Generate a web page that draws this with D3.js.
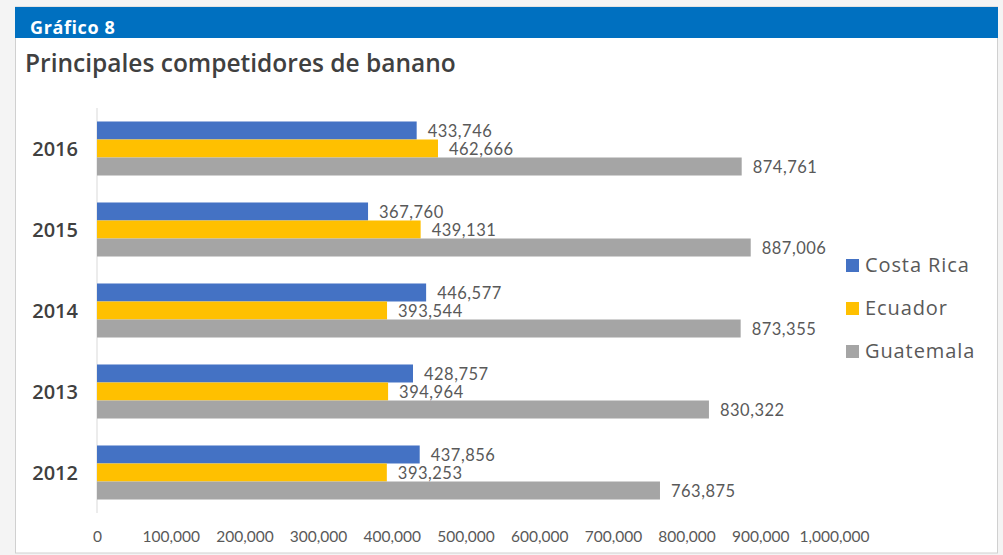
<!DOCTYPE html>
<html><head><meta charset="utf-8">
<script src="https://cdn.jsdelivr.net/npm/d3@7"></script>
<style>
html,body{margin:0;padding:0;background:#fff;}
svg{display:block;}
</style></head>
<body>
<svg id="c" width="1003" height="555"></svg>
<script>
const years = ["2016","2015","2014","2013","2012"];
const seriesNames = ["Costa Rica","Ecuador","Guatemala"];
const costaRica = [433746, 367760, 446577, 428757, 437856];
const ecuador   = [462666, 439131, 393544, 394964, 393253];
const guatemala = [874761, 887006, 873355, 830322, 763875];
const tickValues = [0,100000,200000,300000,400000,500000,600000,700000,800000,900000,1000000];
const colors = ["#4472C4","#FFC000","#A5A5A5"];

const seriesValues = [costaRica, ecuador, guatemala];
const svg = d3.select("#c");
const fmt = d3.format(",");

// page background & frame
svg.append("rect").attr("x",0).attr("y",0).attr("width",1003).attr("height",555).attr("fill","#f4f4f4");
svg.append("rect").attr("x",15.5).attr("y",7).attr("width",982).attr("height",546).attr("fill","#fff").attr("stroke","#d0d0d0");
svg.append("rect").attr("x",15).attr("y",7).attr("width",983).attr("height",31).attr("fill","#0070C0");
svg.append("text").attr("x",30).attr("y",34).text("Gráfico 8")
  .attr("font-family","Open Sans").attr("font-weight",700).attr("font-size",18).attr("letter-spacing",0.6).attr("fill","#fff");
svg.append("text").attr("x",25).attr("y",72).text("Principales competidores de banano")
  .attr("font-family","Open Sans").attr("font-weight",600).attr("font-size",24.5).attr("fill","#404040");

const x = d3.scaleLinear().domain([0,1000000]).range([97,834]);
const y = d3.scaleBand().domain(years).range([108,513]).paddingInner(0.333).paddingOuter(0.1665);
const ySub = d3.scaleBand().domain(seriesNames).range([0,y.bandwidth()]);

// axis line (vertical)
svg.append("line").attr("x1",97).attr("x2",97).attr("y1",108).attr("y2",513).attr("stroke","#d9d9d9");

// x tick labels
const xAxis = d3.axisBottom(x).tickValues(tickValues).tickFormat(d=>fmt(d)).tickSize(0).tickPadding(0);
const gx = svg.append("g").attr("transform","translate(0,537)").call(xAxis);
gx.select(".domain").remove();
gx.selectAll("text").attr("font-family","Lato").attr("font-size",15.5).attr("fill","#595959").attr("dy","0.32em").attr("y",0);

// y labels
const yAxis = d3.axisLeft(y).tickSize(0).tickPadding(0);
const gy = svg.append("g").attr("transform","translate(78,0)").call(yAxis);
gy.select(".domain").remove();
gy.selectAll("text").attr("font-family","Open Sans").attr("font-weight",600).attr("font-size",20).attr("fill","#404040").attr("dy","0.35em");

// bars
const groups = svg.append("g").selectAll("g").data(years).join("g")
  .attr("transform", d=>`translate(0,${y(d)})`);
seriesNames.forEach((s,si)=>{
  groups.append("rect")
    .attr("x", x(0))
    .attr("y", ySub(s))
    .attr("width", (d,i)=> x(seriesValues[si][i]) - x(0))
    .attr("height", ySub.bandwidth())
    .attr("fill", colors[si]);
});
seriesNames.forEach((s,si)=>{
  groups.append("text")
    .attr("x", (d,i)=> x(seriesValues[si][i]) + 11)
    .attr("y", ySub(s) + ySub.bandwidth()/2 + 1)
    .attr("dy","0.35em")
    .attr("font-family","Lato").attr("font-size",16.5).attr("letter-spacing",0.5).attr("fill","#595959")
    .text((d,i)=> fmt(seriesValues[si][i]));
});

// legend
const lg = svg.append("g").selectAll("g").data(seriesNames).join("g")
  .attr("transform",(d,i)=>`translate(846,${265 + i*43})`);
lg.append("rect").attr("x",0).attr("y",-6).attr("width",13).attr("height",13).attr("fill",(d,i)=>colors[i]);
lg.append("text").attr("x",19).attr("y",0).attr("dy","0.35em").text(d=>d)
  .attr("font-family","Open Sans").attr("font-size",20).attr("letter-spacing",0.9).attr("fill","#595959");
</script>
</body></html>
